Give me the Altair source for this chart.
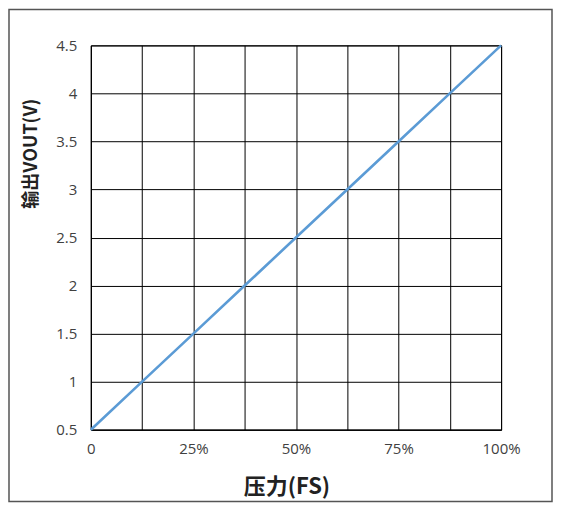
import altair as alt
import pandas as pd

pressure = [0, 0.125, 0.25, 0.375, 0.5, 0.625, 0.75, 0.875, 1.0]
vout = [0.5, 1.0, 1.5, 2.0, 2.5, 3.0, 3.5, 4.0, 4.5]
x_grid = [0, 0.125, 0.25, 0.375, 0.5, 0.625, 0.75, 0.875, 1.0]
y_ticks = [0.5, 1, 1.5, 2, 2.5, 3, 3.5, 4, 4.5]

df = pd.DataFrame({"p": pressure, "v": vout})
font = "Open Sans"

line = alt.Chart(df).mark_line(color="#5B9BD5", strokeWidth=2.6).encode(
    x=alt.X("p:Q",
            scale=alt.Scale(domain=[0, 1], nice=False, zero=False),
            axis=alt.Axis(values=x_grid,
                          labelExpr="datum.value == 0 ? '0' : (((datum.value * 1000) % 250) == 0 ? format(datum.value, '.0%') : '')",
                          title="压力(FS)", titleFontSize=22, titleFontWeight="bold",
                          titleFont="Noto Sans CJK SC", titleColor="#222222",
                          titleX=196, titleY=57, titleAlign="center", titleBaseline="middle",
                          labelFont=font, labelFontSize=15, labelColor="#404040",
                          labelPadding=12, ticks=False, grid=True, gridColor="#000000",
                          gridWidth=1, gridOpacity=1, domainColor="#000000", labelFlush=False)),
    y=alt.Y("v:Q",
            scale=alt.Scale(domain=[0.5, 4.5], nice=False, zero=False),
            axis=alt.Axis(values=y_ticks, format="~g",
                          title="输出VOUT(V)", titleFontSize=18, titleFontWeight="bold",
                          titleFont="Noto Sans CJK SC", titleColor="#222222",
                          titleAngle=270, titleX=-59, titleY=108, titleAlign="center",
                          titleBaseline="middle",
                          labelFont=font, labelFontSize=15, labelColor="#404040",
                          labelPadding=14, ticks=False, grid=True, gridColor="#000000",
                          gridWidth=1, gridOpacity=1, domainColor="#000000", labelFlush=False)),
)

frame = alt.Chart(pd.DataFrame({"a": [0]})).mark_rect(
    fill=None, stroke="#555555", strokeWidth=1.5
).encode(
    x=alt.value(-82), x2=alt.value(462),
    y=alt.value(-36), y2=alt.value(457),
)

chart = alt.layer(frame, line).properties(
    width=411, height=385,
    autosize=alt.AutoSizeParams(type="none"),
    padding={"left": 83, "top": 37, "right": 52, "bottom": 74},
).configure_view(stroke="#000000", strokeWidth=1)

chart.save("out.html", embed_options={"renderer": "svg", "actions": False})
